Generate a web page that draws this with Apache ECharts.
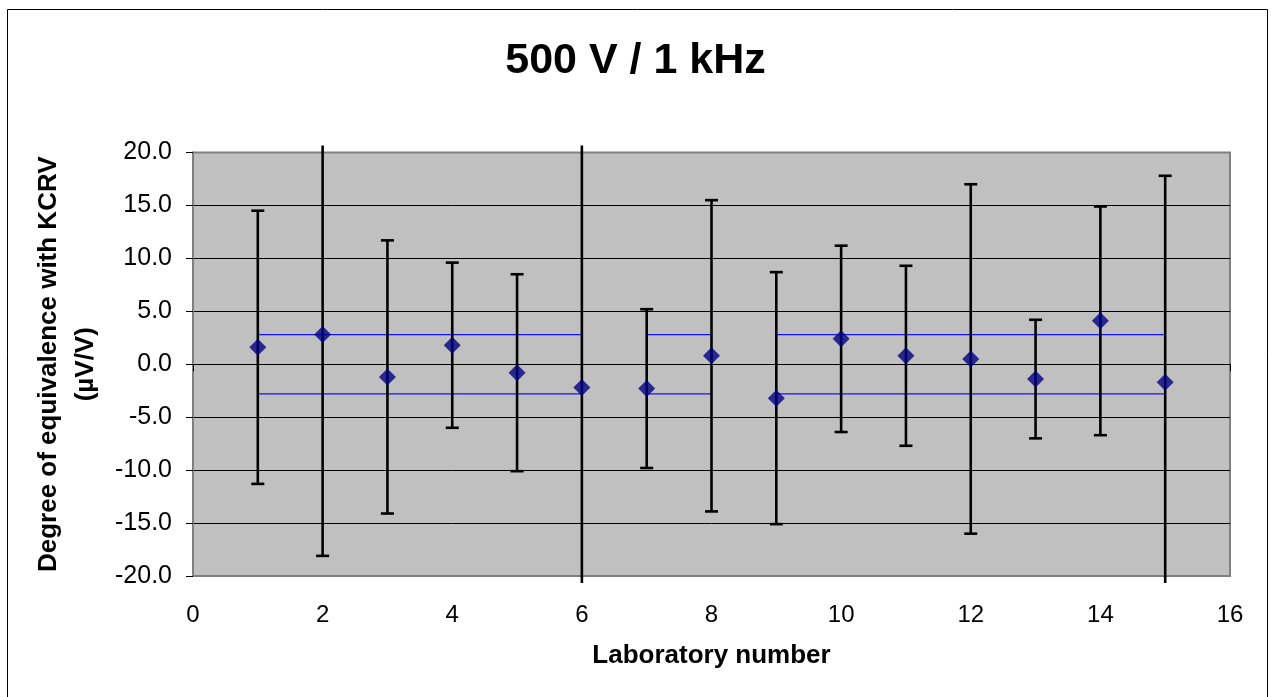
<!DOCTYPE html>
<html>
<head>
<meta charset="utf-8">
<script src="https://cdn.jsdelivr.net/npm/echarts@6/dist/echarts.min.js"></script>
<style>
html,body{margin:0;padding:0;background:#fff;}
#chart{width:1271px;height:697px;}
</style>
</head>
<body>
<div id="chart"></div>
<script>
// ---- data ----
var titleText = '500 V / 1 kHz';
var xAxisTitle = 'Laboratory number';
var yAxisTitle = 'Degree of equivalence with KCRV\n(\u00b5V/V)';
var labs = [1, 2, 3, 4, 5, 6, 7, 8, 9, 10, 11, 12, 13, 14, 15];
var deviation = [1.6, 2.8, -1.2, 1.8, -0.8, -2.2, -2.3, 0.8, -3.2, 2.4, 0.8, 0.5, -1.4, 4.1, -1.7];
var uncertainty = [12.9, 20.9, 12.9, 7.8, 9.3, 25.0, 7.5, 14.7, 11.9, 8.8, 8.5, 16.5, 5.6, 10.8, 19.5];
var refUpper = 2.8;
var refLower = -2.8;
var refSegments = [[1, 6], [7, 8], [9, 15]];
var xTicks = { min: 0, max: 16, interval: 2 };
var yTicks = { min: -20, max: 20, interval: 5 };

var FONT = 'Arial, "Liberation Sans", sans-serif';

var chart = echarts.init(document.getElementById('chart'));

var points = labs.map(function (l, i) { return [l, deviation[i]]; });
var bars = labs.map(function (l, i) { return [l, deviation[i] - uncertainty[i], deviation[i] + uncertainty[i]]; });

function refLine(v) {
  var d = [];
  refSegments.forEach(function (s, k) {
    if (k > 0) d.push([s[0] - 0.5, '-']);
    d.push([s[0], v]);
    d.push([s[1], v]);
  });
  return d;
}

var GRID = { left: 193, right: 41, top: 152.5, bottom: 121 };

function renderBar(params, api) {
  var x = api.value(0);
  var lo = api.coord([x, api.value(1)]);
  var hi = api.coord([x, api.value(2)]);
  var cs = params.coordSys;
  var top = cs.y - 7, bottom = cs.y + cs.height + 7;
  var yHi = Math.max(hi[1], top);
  var yLo = Math.min(lo[1], bottom);
  var capHalf = 6.5;
  var style = { stroke: '#000', lineWidth: 2.6 };
  var children = [{
    type: 'line', shape: { x1: lo[0], y1: yLo, x2: lo[0], y2: yHi }, style: style
  }];
  if (hi[1] >= cs.y) {
    children.push({ type: 'line', shape: { x1: hi[0] - capHalf, y1: hi[1], x2: hi[0] + capHalf, y2: hi[1] }, style: style });
  }
  if (lo[1] <= cs.y + cs.height) {
    children.push({ type: 'line', shape: { x1: lo[0] - capHalf, y1: lo[1], x2: lo[0] + capHalf, y2: lo[1] }, style: style });
  }
  return { type: 'group', children: children };
}

var option = {
  backgroundColor: '#fff',
  animation: false,
  title: {
    text: titleText,
    left: 'center',
    top: 35,
    textStyle: { fontFamily: FONT, fontSize: 43, fontWeight: 'bold', color: '#000' }
  },
  graphic: [{
    type: 'rect',
    shape: { x: 7.5, y: 9.5, width: 1260, height: 700 },
    style: { fill: null, stroke: '#000', lineWidth: 1 },
    z: -1, silent: true
  }],
  grid: {
    left: GRID.left, right: GRID.right, top: GRID.top, bottom: GRID.bottom,
    show: true, backgroundColor: '#C0C0C0', borderColor: '#808080', borderWidth: 2
  },
  xAxis: [{
    type: 'value', min: xTicks.min, max: xTicks.max, interval: xTicks.interval,
    position: 'bottom',
    axisLine: { show: false, onZero: false },
    axisTick: { show: false },
    splitLine: { show: false },
    axisLabel: { fontFamily: FONT, fontSize: 24, color: '#000', margin: 27 },
    name: xAxisTitle, nameLocation: 'middle', nameGap: 67,
    nameTextStyle: { fontFamily: FONT, fontSize: 26, fontWeight: 'bold', color: '#000' }
  }, {
    type: 'value', min: xTicks.min, max: xTicks.max, interval: xTicks.interval,
    position: 'bottom',
    axisLine: { show: true, onZero: true, lineStyle: { color: '#000', width: 1 } },
    axisTick: { show: true, length: 7, inside: false, lineStyle: { color: '#000', width: 1 } },
    splitLine: { show: false },
    axisLabel: { show: false }
  }],
  yAxis: {
    type: 'value', min: yTicks.min, max: yTicks.max, interval: yTicks.interval,
    axisLine: { show: true, lineStyle: { color: '#808080', width: 2 } },
    axisTick: { show: true, length: 7, lineStyle: { color: '#000', width: 1 } },
    splitLine: { show: true, showMinLine: false, showMaxLine: false, lineStyle: { color: '#000', width: 1 } },
    axisLabel: {
      fontFamily: FONT, fontSize: 25, color: '#000', margin: 21,
      formatter: function (v) { return v.toFixed(1); }
    },
    name: yAxisTitle, nameLocation: 'middle', nameRotate: 90, nameGap: 86,
    nameTextStyle: { fontFamily: FONT, fontSize: 26, fontWeight: 'bold', color: '#000', lineHeight: 37 }
  },
  series: [{
    type: 'line', name: 'upper', xAxisIndex: 0, data: refLine(refUpper),
    symbol: 'none', connectNulls: false, z: 2,
    lineStyle: { color: '#1414FF', width: 1.2 }
  }, {
    type: 'line', name: 'lower', xAxisIndex: 0, data: refLine(refLower),
    symbol: 'none', connectNulls: false, z: 2,
    lineStyle: { color: '#1414FF', width: 1.2 }
  }, {
    type: 'custom', name: 'uncertainty', xAxisIndex: 0, data: bars,
    renderItem: renderBar, clip: false, z: 3,
    encode: { x: 0, y: [1, 2] }
  }, {
    type: 'scatter', name: 'DoE', xAxisIndex: 0, data: points,
    symbol: 'diamond', symbolSize: 17, z: 4,
    itemStyle: { color: '#000080' }
  }]
};
chart.setOption(option);
</script>
</body>
</html>
